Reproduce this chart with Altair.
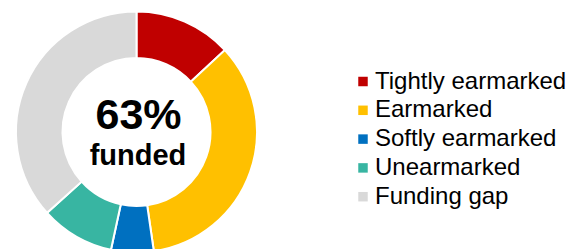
import altair as alt
import pandas as pd

categories = ["Tightly earmarked", "Earmarked", "Softly earmarked", "Unearmarked", "Funding gap"]
shares = [13.1, 34.6, 5.7, 9.9, 36.7]
colors = ["#C00000", "#FFC000", "#0070C0", "#38B5A2", "#D9D9D9"]
center_label = "funded"

df = pd.DataFrame({"category": categories, "share": shares, "order": list(range(len(categories)))})
funded_pct = round(sum(shares[:4]))

CX, CY = 128.5, 124

arc = alt.Chart(df).mark_arc(radius=120.5, radius2=74, stroke="white", strokeWidth=2).encode(
    theta=alt.Theta("share:Q", stack=True),
    order=alt.Order("order:Q"),
    color=alt.Color(
        "category:N",
        scale=alt.Scale(domain=categories, range=colors),
        sort=categories,
        legend=alt.Legend(
            title=None, orient="none", legendX=343, legendY=61.5,
            symbolType="square", symbolSize=90, symbolStrokeWidth=0,
            labelFont="Liberation Sans", labelFontSize=24, labelColor="#000000",
            labelOffset=0, rowPadding=4.8, labelLimit=400, padding=0,
        ),
    ),
    x=alt.value(CX), y=alt.value(CY),
)

txt_df = pd.DataFrame({"pct": [f"{funded_pct}%"], "lbl": [center_label]})
big = alt.Chart(txt_df).mark_text(
    font="Liberation Sans", fontSize=43, fontWeight="bold", color="#000000", baseline="alphabetic", align="center"
).encode(text="pct:N", x=alt.value(CX + 2), y=alt.value(121))
small = alt.Chart(txt_df).mark_text(
    font="Liberation Sans", fontSize=29, fontWeight="bold", color="#000000", baseline="alphabetic", align="center"
).encode(text="lbl:N", x=alt.value(CX + 1.5), y=alt.value(157))

chart = alt.layer(arc, big, small).properties(
    width=558, height=250, autosize=alt.AutoSizeParams(type="none"), padding=0
).configure_view(stroke=None)

chart.save("out.html", embed_options={"renderer": "svg", "actions": False})
